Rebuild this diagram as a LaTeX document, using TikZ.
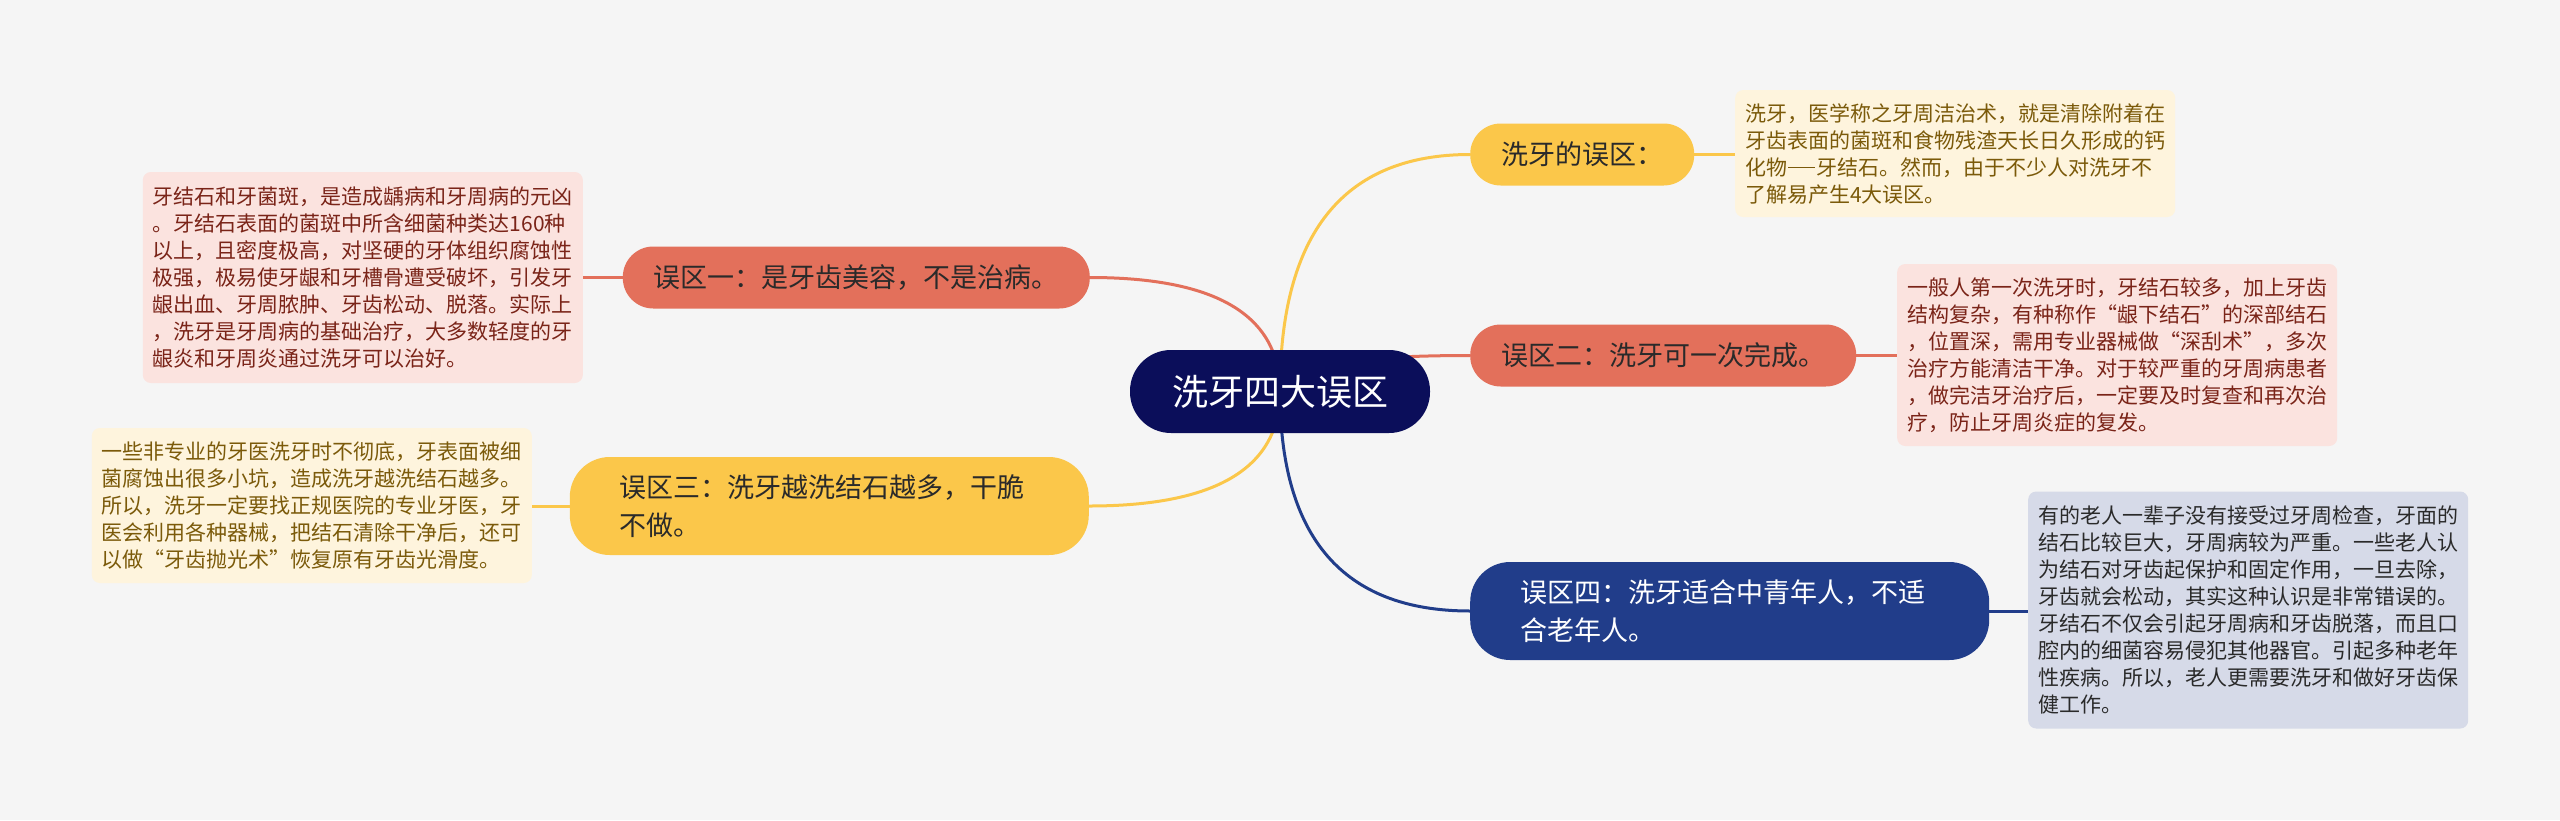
\documentclass[tikz,border=0pt]{standalone}
\usepackage{fontspec}
\usetikzlibrary{calc}
\newfontfamily\cjk{Noto Sans CJK SC}
\newcommand\lqm{\makebox[1em][r]{“}}
\newcommand\rqm{\makebox[1em][l]{”}}
\newcommand\cdash{\hspace{0.06em}\rule[0.34em]{1.28em}{0.06em}\hspace{0.06em}}
\definecolor{bgc}{HTML}{F5F5F5}
\definecolor{navyc}{HTML}{0B0E5A}
\definecolor{yelc}{HTML}{FBC74A}
\definecolor{redc}{HTML}{E3705B}
\definecolor{bluec}{HTML}{213D8A}
\definecolor{pinkleaf}{HTML}{FBE3DF}
\definecolor{creamleaf}{HTML}{FEF4DD}
\definecolor{blueleaf}{HTML}{D6DAE8}
\definecolor{pinktxt}{HTML}{7A2418}
\definecolor{creamtxt}{HTML}{7B5A0A}
\definecolor{darktxt}{HTML}{2A2A2A}
\pgfdeclarelayer{bglayer}
\pgfdeclarelayer{connlayer}
\pgfsetlayers{bglayer,connlayer,main}
\tikzset{
  leafbox/.style={rounded corners=8pt, text width=420pt, inner xsep=10pt, inner ysep=0pt, align=left,
    font=\fontsize{21pt}{27pt}\selectfont\cjk},
  leafpink/.style={leafbox, fill=pinkleaf, text=pinktxt},
  leafcream/.style={leafbox, fill=creamleaf, text=creamtxt},
  leafblue/.style={leafbox, fill=blueleaf, text=darktxt},
  branch/.style={font=\fontsize{27pt}{38pt}\selectfont\cjk, inner xsep=31pt, inner ysep=0pt,
    minimum height=62pt, rounded corners=30.5pt},
  twoline/.style={branch, text width=419pt, align=left, inner xsep=50pt, minimum height=98pt, rounded corners=40pt},
  byel/.style={fill=yelc, text=darktxt},
  bred/.style={fill=redc, text=darktxt},
  bblue/.style={fill=bluec, text=white},
  centralbox/.style={fill=navyc, text=white, font=\fontsize{36pt}{40pt}\selectfont\cjk,
    inner xsep=42pt, inner ysep=0pt, minimum height=83pt, rounded corners=41pt},
  conn/.style={line width=3pt},
}
\begin{document}
\begin{tikzpicture}[x=1pt,y=-1pt]
\begin{pgfonlayer}{bglayer}
\fill[bgc] (0,0) rectangle (2560,820);
\end{pgfonlayer}
\useasboundingbox (0,0) rectangle (2560,820);

\node[centralbox] (c) at (1280,391.5) {洗牙四大误区};

\node[branch, byel, anchor=west] (b0) at (1470,154.5) {洗牙的误区：};
\node[branch, bred, anchor=west] (b2) at (1470,355.5) {误区二：洗牙可一次完成。};
\node[twoline, bblue, anchor=west] (b4) at (1470,611) {误区四：洗牙适合中青年人，不适\\合老年人。};
\node[branch, bred, anchor=east] (b1) at (1090,277.5) {误区一：是牙齿美容，不是治病。};
\node[twoline, byel, anchor=east] (b3) at (1089,506) {误区三：洗牙越洗结石越多，干脆\\不做。};

\node[leafcream, anchor=west, minimum height=127pt] (l0) at (1735,153.5) {洗牙，医学称之牙周洁治术，就是清除附着在\\牙齿表面的菌斑和食物残渣天长日久形成的钙\\化物\cdash 牙结石。然而，由于不少人对洗牙不\\了解易产生4大误区。};
\node[leafpink, anchor=west, minimum height=182pt] (l2) at (1897,355) {一般人第一次洗牙时，牙结石较多，加上牙齿\\结构复杂，有种称作\lqm 龈下结石\rqm 的深部结石\\，位置深，需用专业器械做\lqm 深刮术\rqm ，多次\\治疗方能清洁干净。对于较严重的牙周病患者\\，做完洁牙治疗后，一定要及时复查和再次治\\疗，防止牙周炎症的复发。};
\node[leafblue, anchor=west, minimum height=237pt] (l4) at (2028,610) {有的老人一辈子没有接受过牙周检查，牙面的\\结石比较巨大，牙周病较为严重。一些老人认\\为结石对牙齿起保护和固定作用，一旦去除，\\牙齿就会松动，其实这种认识是非常错误的。\\牙结石不仅会引起牙周病和牙齿脱落，而且口\\腔内的细菌容易侵犯其他器官。引起多种老年\\性疾病。所以，老人更需要洗牙和做好牙齿保\\健工作。};
\node[leafpink, anchor=east, minimum height=211pt] (l1) at (583,277.5) {牙结石和牙菌斑，是造成龋病和牙周病的元凶\\。牙结石表面的菌斑中所含细菌种类达160种\\以上，且密度极高，对坚硬的牙体组织腐蚀性\\极强，极易使牙龈和牙槽骨遭受破坏，引发牙\\龈出血、牙周脓肿、牙齿松动、脱落。实际上\\，洗牙是牙周病的基础治疗，大多数轻度的牙\\龈炎和牙周炎通过洗牙可以治好。};
\node[leafcream, anchor=east, minimum height=155pt] (l3) at (532,505.5) {一些非专业的牙医洗牙时不彻底，牙表面被细\\菌腐蚀出很多小坑，造成洗牙越洗结石越多。\\所以，洗牙一定要找正规医院的专业牙医，牙\\医会利用各种器械，把结石清除干净后，还可\\以做\lqm 牙齿抛光术\rqm 恢复原有牙齿光滑度。};

\coordinate (k0) at (c.center |- b0.west);
\coordinate (k2) at (c.center |- b2.west);
\coordinate (k4) at (c.center |- b4.west);
\coordinate (k1) at (c.center |- b1.east);
\coordinate (k3) at (c.center |- b3.east);

\begin{pgfonlayer}{connlayer}
\draw[conn, yelc] (c.center) .. controls ($(c.center)!0.6667!(k0)$) and ($(b0.west)!0.6667!(k0)$) .. (b0.west);
\draw[conn, redc] (c.center) .. controls ($(c.center)!0.6667!(k2)$) and ($(b2.west)!0.6667!(k2)$) .. (b2.west);
\draw[conn, bluec] (c.center) .. controls ($(c.center)!0.6667!(k4)$) and ($(b4.west)!0.6667!(k4)$) .. (b4.west);
\draw[conn, redc] (c.center) .. controls ($(c.center)!0.6667!(k1)$) and ($(b1.east)!0.6667!(k1)$) .. (b1.east);
\draw[conn, yelc] (c.center) .. controls ($(c.center)!0.6667!(k3)$) and ($(b3.east)!0.6667!(k3)$) .. (b3.east);
\draw[conn, yelc] (b0.east) -- (b0.east -| l0.west);
\draw[conn, redc] (b2.east) -- (b2.east -| l2.west);
\draw[conn, bluec] (b4.east) -- (b4.east -| l4.west);
\draw[conn, redc] (b1.west) -- (b1.west -| l1.east);
\draw[conn, yelc] (b3.west) -- (b3.west -| l3.east);
\end{pgfonlayer}
\end{tikzpicture}
\end{document}
